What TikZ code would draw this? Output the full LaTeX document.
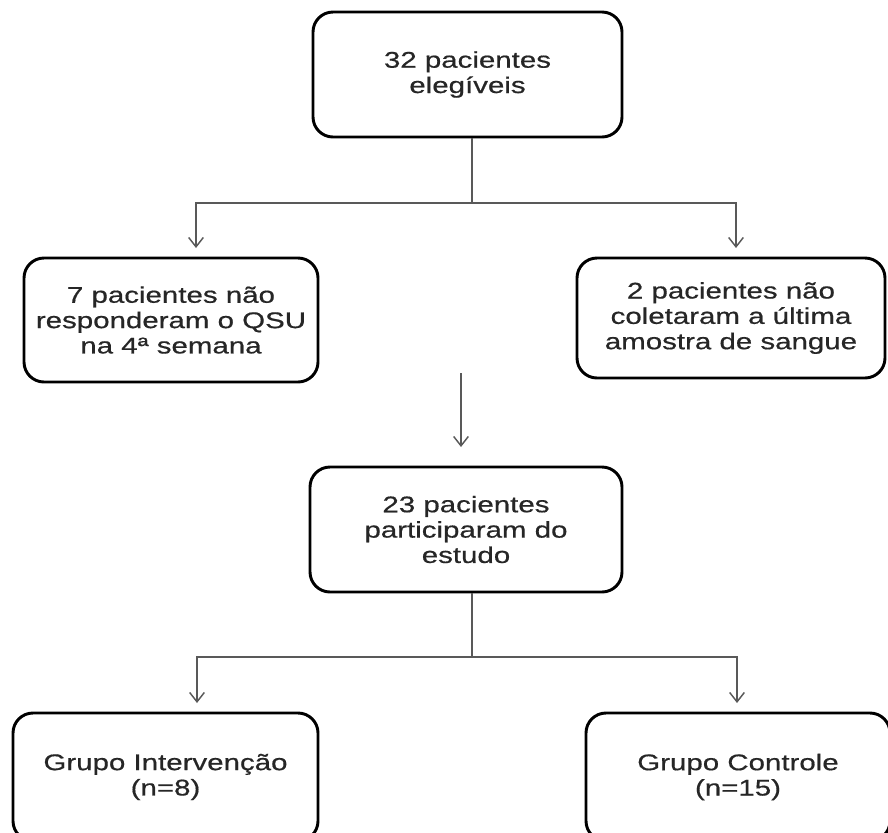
\documentclass[tikz,border=0pt]{standalone}
\usepackage{fontspec}
\setmainfont[FakeStretch=1.3,FakeBold=0.6]{Liberation Sans}
\usetikzlibrary{arrows.meta}

\begin{document}
\begin{tikzpicture}[x=0.75pt,y=0.75pt,yscale=-1,xscale=1,
    caixa/.style={draw, line width=2.2pt, rounded corners=15pt, align=center, inner sep=0pt, text=black!85, font=\fontsize{17}{19}\selectfont},
    liga/.style={draw=black!65, line width=1.1pt},
    seta/.style={liga, -{Straight Barb[length=7pt,width=11pt]}}]
            \useasboundingbox (0,0) rectangle (888,832);
            \clip (0,0) rectangle (888,832);

            % Text Node
            \node [caixa, minimum width=231.75pt, minimum height=93.75pt] (elegiveis) at (467.5,74.5) {32 pacientes\\elegíveis};
            % Text Node
            \node [caixa, minimum width=220.5pt, minimum height=93pt] (semQSU) at (171,320) {7 pacientes não\\responderam o QSU\\na 4ª semana};
            % Text Node
            \node [caixa, minimum width=231pt, minimum height=90pt] (semAmostra) at (731,318) {2 pacientes não\\coletaram a última\\amostra de sangue};
            % Text Node
            \node [caixa, minimum width=234pt, minimum height=93.75pt] (participantes) at (466,529.5) {23 pacientes\\participaram do\\estudo};
            % Text Node
            \node [caixa, minimum width=228.75pt, minimum height=96pt] (intervencao) at (165.5,777) {Grupo Intervenção\\(n=8)};
            % Text Node
            \node [caixa, minimum width=228pt, minimum height=96pt] (controle) at (738,777) {Grupo Controle\\(n=15)};

            \coordinate (ramo1) at (472,203);
            \coordinate (ponta1) at (196,248);
            \coordinate (ponta2) at (736,248);
            \coordinate (meio1) at (461,373);
            \coordinate (meio2) at (461,447);
            \coordinate (ramo2) at (472,657);
            \coordinate (ponta3) at (197,703);
            \coordinate (ponta4) at (737,703);

            %Straight Lines
            \draw [liga] (elegiveis.south -| ramo1) -- (ramo1) ;
            \draw [seta] (ramo1) -| (ponta1) ;
            \draw [seta] (ramo1) -| (ponta2) ;
            %Straight Lines
            \draw [seta] (meio1) -- (meio2) ;
            %Straight Lines
            \draw [liga] (participantes.south -| ramo2) -- (ramo2) ;
            \draw [seta] (ramo2) -| (ponta3) ;
            \draw [seta] (ramo2) -| (ponta4) ;

\end{tikzpicture}
\end{document}
